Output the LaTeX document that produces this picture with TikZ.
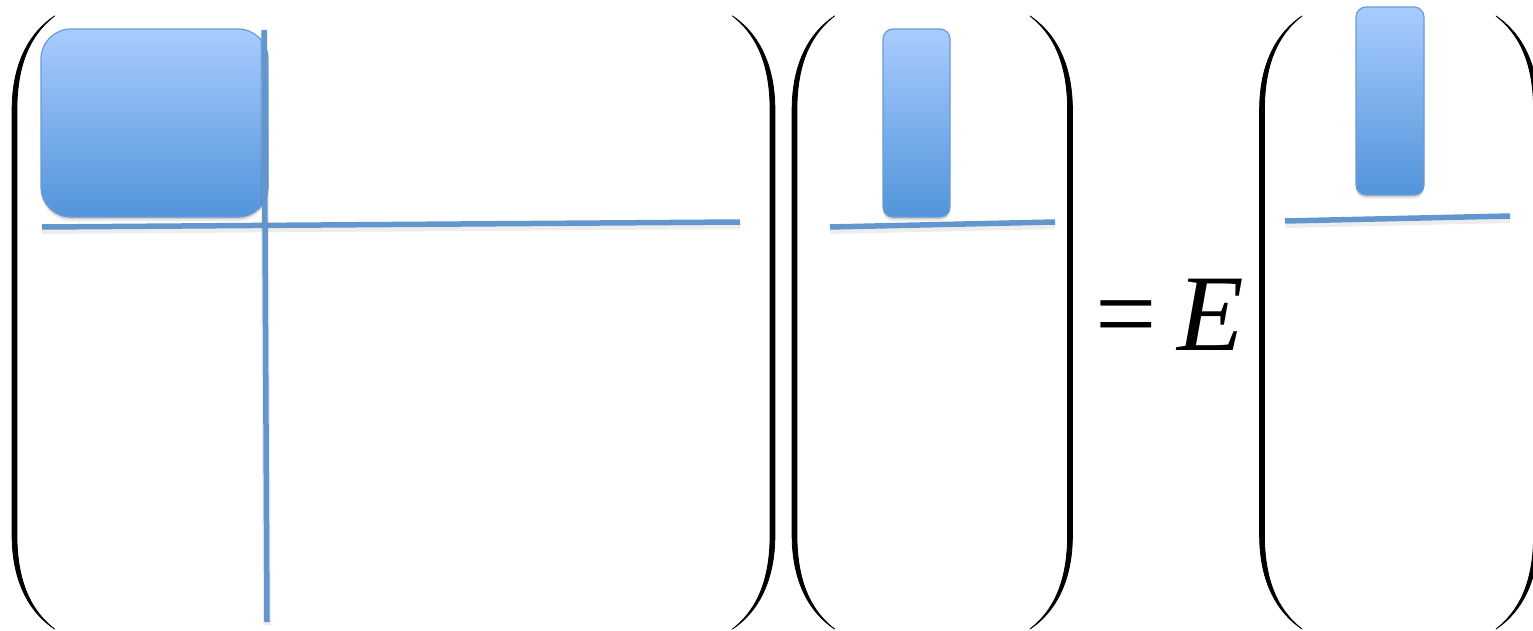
\documentclass[tikz,border=0pt]{standalone}
\usepackage{fontspec}
\setmainfont{Liberation Serif}
\usetikzlibrary{shadows}
\definecolor{boxtop}{HTML}{A8CCFF}
\definecolor{boxbot}{HTML}{5294DA}
\definecolor{boxborder}{HTML}{6C9BD2}
\definecolor{linecol}{HTML}{6396CC}
\newcommand\parenshape{%
  \filldraw[black, line width=0.8pt, line join=round]
    (40,16) .. controls (16,32) and (-2.4,62) .. (-2.4,110) -- (-2.4,535)
    .. controls (-2.4,583) and (16,613) .. (40,629)
    .. controls (18,612) and (2.4,584) .. (2.4,535) -- (2.4,110)
    .. controls (2.4,61) and (18,33) .. (40,16) -- cycle;}
\tikzset{
  bluebox/.style={draw=boxborder, line width=1.2pt, top color=boxtop, bottom color=boxbot,
    inner sep=0pt, outer sep=0pt,
    drop shadow={shadow xshift=0pt, shadow yshift=-2pt, opacity=0.12, fill=black},
    drop shadow={shadow xshift=0pt, shadow yshift=-4pt, opacity=0.08, fill=black}},
  bline/.style={draw=linecol, line width=5.5pt,
    preaction={draw=black, opacity=0.07, line width=8pt, transform canvas={yshift=-3pt}}},
  bigtext/.style={inner sep=0pt, outer sep=0pt, font=\fontsize{109}{109}\selectfont},
}
\begin{document}
\begin{tikzpicture}[x=1pt, y=-1pt]
\useasboundingbox (0,0) rectangle (1533,631);
\clip (0,0) rectangle (1533,631);
% parentheses
\begin{scope}[shift={(14.5,0)}] \parenshape \end{scope}
\begin{scope}[shift={(772.5,0)}, xscale=-1] \parenshape \end{scope}
\begin{scope}[shift={(794.5,0)}] \parenshape \end{scope}
\begin{scope}[shift={(1070,0)}, xscale=-1] \parenshape \end{scope}
\begin{scope}[shift={(1262,0)}] \parenshape \end{scope}
\begin{scope}[shift={(1536,0)}, xscale=-1] \parenshape \end{scope}
% blocks
\node[bluebox, minimum width=227pt, minimum height=188pt, rounded corners=30pt] (b1) at (154.5,123) {};
\node[bluebox, minimum width=67pt, minimum height=188pt, rounded corners=10pt] (b2) at (916.5,123) {};
\node[bluebox, minimum width=68pt, minimum height=188pt, rounded corners=10pt] (b3) at (1390,101) {};
% partition lines
\coordinate (h1a) at (42,227);
\coordinate (h1b) at (740,222);
\coordinate (v1a) at (264,30);
\coordinate (v1b) at (267,622);
\coordinate (h2a) at (830,227);
\coordinate (h2b) at (1055,222);
\coordinate (h3a) at (1285,221);
\coordinate (h3b) at (1510,216);
\draw[bline] (h1a) -- (h1b);
\draw[bline] (v1a) -- (v1b);
\draw[bline] (h2a) -- (h2b);
\draw[bline] (h3a) -- (h3b);
% equation text
\node[bigtext, anchor=base] (eq) at (1126,350) {=};
\node[bigtext, anchor=base] (en) at (1211,350) {\textit{E}};
\end{tikzpicture}
\end{document}
